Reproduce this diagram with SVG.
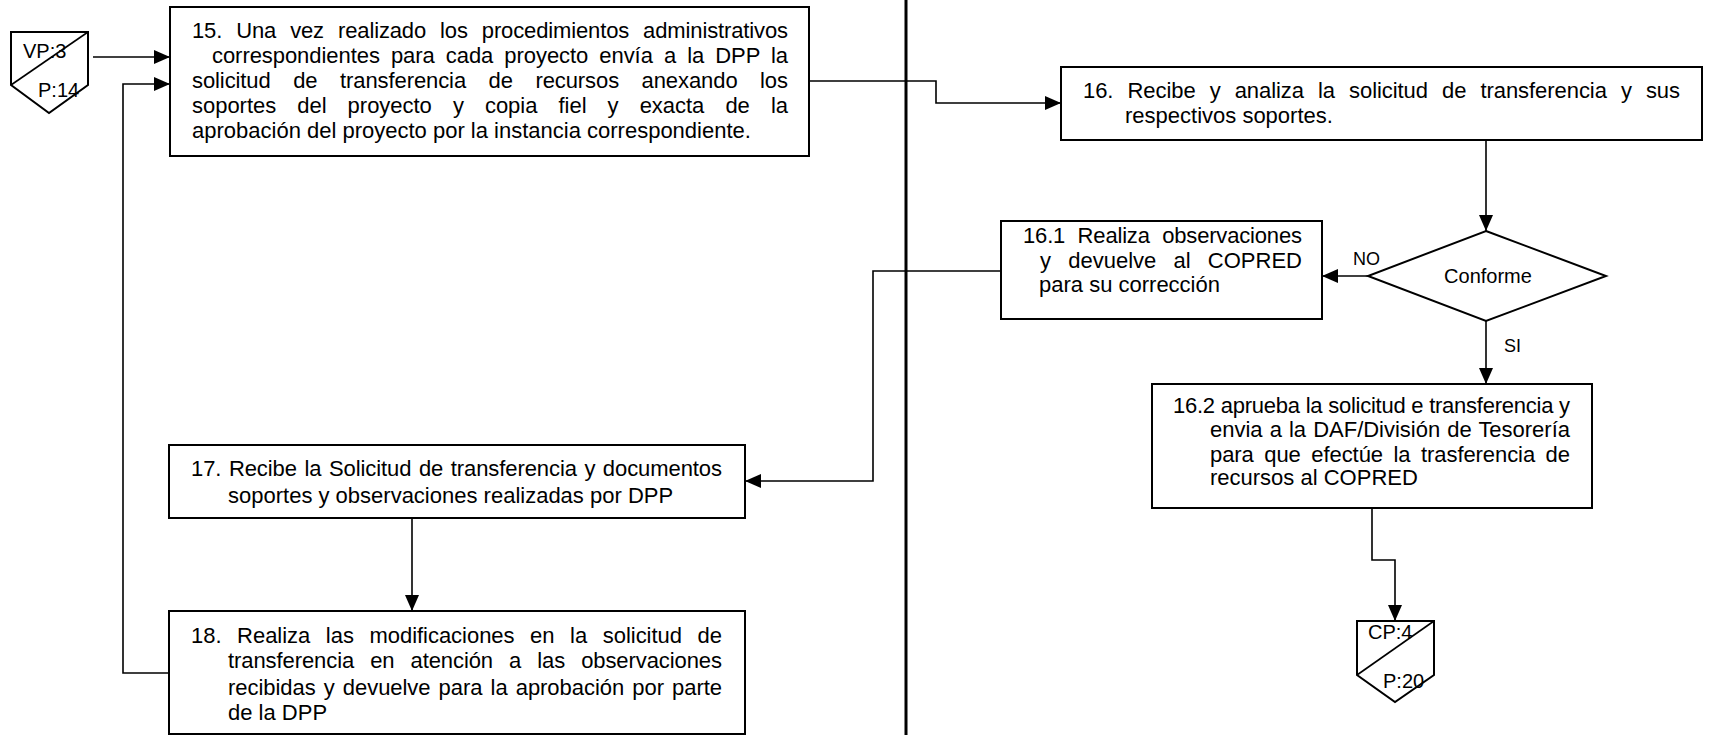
<svg xmlns="http://www.w3.org/2000/svg" width="1710" height="735" viewBox="0 0 1710 735">
<style>
.box{fill:#fff;stroke:#000;stroke-width:2}
.shape{fill:#fff;stroke:#000;stroke-width:2}
.ln{fill:none;stroke:#000;stroke-width:1.6}
.conn{fill:none;stroke:#000;stroke-width:1.6}
.t{font-family:"Liberation Sans",Arial,sans-serif;font-size:22px;fill:#000}
.s{font-family:"Liberation Sans",Arial,sans-serif;font-size:20px;fill:#000}
.lbl{font-family:"Liberation Sans",Arial,sans-serif;font-size:18px;fill:#000}
.lane{stroke:#000;stroke-width:3}
</style>
<defs>
<marker id="arr" markerUnits="userSpaceOnUse" markerWidth="16" markerHeight="14" refX="16" refY="7" orient="auto">
<path d="M0,0 L16,7 L0,14 z" fill="#000"/>
</marker>
</defs>
<rect width="1710" height="735" fill="#fff"/>
<line class="lane" x1="906" y1="0" x2="906" y2="735"/>

<g id="connectors">
<path class="conn" d="M93,57 H170" marker-end="url(#arr)"/>
<path class="conn" d="M169,673 H123 V84 H170" marker-end="url(#arr)"/>
<path class="conn" d="M809,81 H936 V103 H1061" marker-end="url(#arr)"/>
<path class="conn" d="M1486,141 V231" marker-end="url(#arr)"/>
<path class="conn" d="M1368,276 H1322" marker-end="url(#arr)"/>
<path class="conn" d="M1486,321 V384" marker-end="url(#arr)"/>
<path class="conn" d="M1001,271 H873 V481 H745" marker-end="url(#arr)"/>
<path class="conn" d="M412,519 V611" marker-end="url(#arr)"/>
<path class="conn" d="M1372,509 V560 H1395 V621" marker-end="url(#arr)"/>
<text class="lbl" x="1353" y="265">NO</text>
<text class="lbl" x="1504" y="352">SI</text>
</g>

<g id="vp3">
<path class="shape" d="M11,32 H88 V85 L49,113 L11,85 Z"/>
<line class="ln" x1="11" y1="85" x2="88" y2="32"/>
<text class="s" x="23" y="58">VP:3</text>
<text class="s" x="38" y="97" font-size="21">P:14</text>
</g>

<g id="n15">
<rect class="box" x="170" y="7" width="639" height="149"/>
<text class="t" x="192" y="38" word-spacing="8" textLength="596" lengthAdjust="spacing">15. Una vez realizado los procedimientos administrativos</text>
<text class="t" x="212" y="63" word-spacing="5" textLength="576" lengthAdjust="spacing">correspondientes para cada proyecto envía a la DPP la</text>
<text class="t" x="192" y="88" word-spacing="16.5" textLength="596" lengthAdjust="spacing">solicitud de transferencia de recursos anexando los</text>
<text class="t" x="192" y="113" word-spacing="15" textLength="596" lengthAdjust="spacing">soportes del proyecto y copia fiel y exacta de la</text>
<text class="t" x="192" y="138">aprobación del proyecto por la instancia correspondiente.</text>
</g>

<g id="n16">
<rect class="box" x="1061" y="67" width="641" height="73"/>
<text class="t" x="1083" y="98" word-spacing="8" textLength="597" lengthAdjust="spacing">16. Recibe y analiza la solicitud de transferencia y sus</text>
<text class="t" x="1125" y="123">respectivos soportes.</text>
</g>

<g id="dec">
<path class="shape" d="M1486,231 L1606,276 L1486,321 L1368,276 Z" stroke-width="1.6"/>
<text class="s" x="1488" y="283" text-anchor="middle" font-size="22">Conforme</text>
</g>

<g id="n161">
<rect class="box" x="1001" y="221" width="321" height="98"/>
<text class="t" x="1023" y="243" word-spacing="6.5" textLength="279" lengthAdjust="spacing">16.1 Realiza observaciones</text>
<text class="t" x="1040" y="268" word-spacing="11" textLength="262" lengthAdjust="spacing">y devuelve al COPRED</text>
<text class="t" x="1039" y="292">para su corrección</text>
</g>

<g id="n162">
<rect class="box" x="1152" y="384" width="440" height="124"/>
<text class="t" x="1173" y="413" textLength="397" lengthAdjust="spacing">16.2 aprueba la solicitud e transferencia y</text>
<text class="t" x="1210" y="437" word-spacing="1" textLength="360" lengthAdjust="spacing">envia a la DAF/División de Tesorería</text>
<text class="t" x="1210" y="462" word-spacing="4.5" textLength="360" lengthAdjust="spacing">para que efectúe la trasferencia de</text>
<text class="t" x="1210" y="485">recursos al COPRED</text>
</g>

<g id="cp4">
<path class="shape" d="M1357,621 H1434 V675 L1395,702 L1357,675 Z"/>
<line class="ln" x1="1357" y1="675" x2="1434" y2="621"/>
<text class="s" x="1368" y="639">CP:4</text>
<text class="s" x="1383" y="688" font-size="21">P:20</text>
</g>

<g id="n17">
<rect class="box" x="169" y="445" width="576" height="73"/>
<text class="t" x="191" y="476" word-spacing="1.5" textLength="531" lengthAdjust="spacing">17. Recibe la Solicitud de transferencia y documentos</text>
<text class="t" x="228" y="503">soportes y observaciones realizadas por DPP</text>
</g>

<g id="n18">
<rect class="box" x="169" y="611" width="576" height="123"/>
<text class="t" x="191" y="643" word-spacing="9.5" textLength="531" lengthAdjust="spacing">18. Realiza las modificaciones en la solicitud de</text>
<text class="t" x="228" y="668" word-spacing="10" textLength="494" lengthAdjust="spacing">transferencia en atención a las observaciones</text>
<text class="t" x="228" y="695" word-spacing="2" textLength="494" lengthAdjust="spacing">recibidas y devuelve para la aprobación por parte</text>
<text class="t" x="228" y="720">de la DPP</text>
</g>
</svg>
